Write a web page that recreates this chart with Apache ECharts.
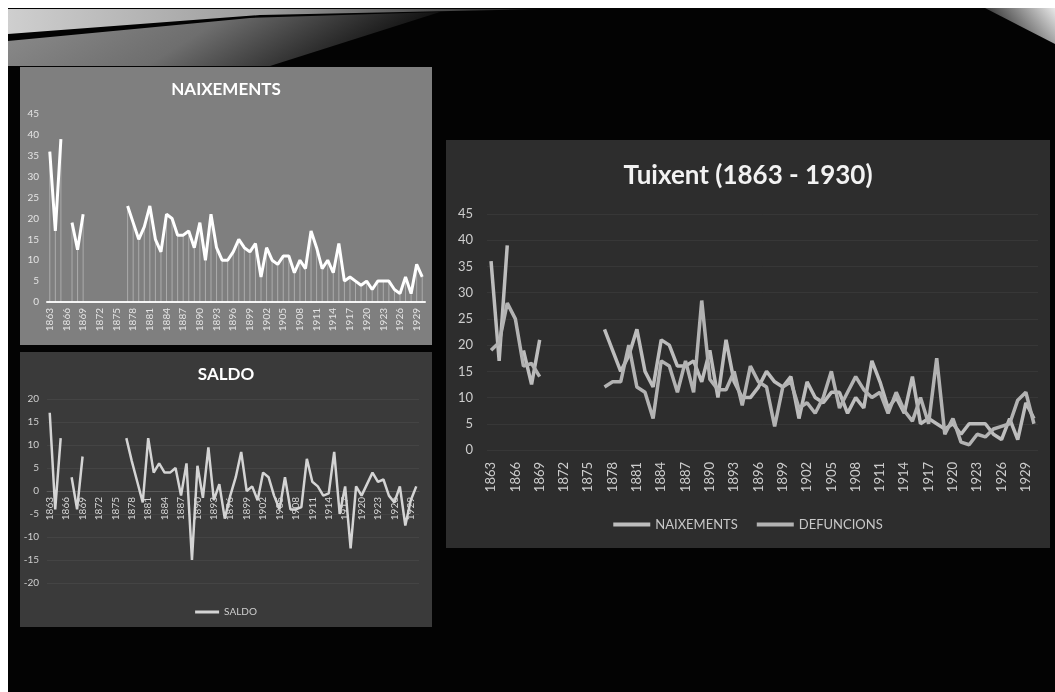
<!DOCTYPE html>
<html>
<head>
    <meta charset="utf-8">
    <title>Tuixent 1863 - 1930</title>
    <script src="https://cdn.jsdelivr.net/npm/echarts@6/dist/echarts.min.js"></script>
    <style>
        body { margin: 0; background: #fff; }
        #bg { position: absolute; left: 0; top: 0; }
        .panel { position: absolute; }
    </style>
</head>
<body>
    <!-- fons de la diapositiva -->
    <svg id="bg" width="1055" height="692">
        <defs>
            <linearGradient id="g1" x1="0" y1="0" x2="1" y2="0">
                <stop offset="0" stop-color="#cfcfcf"/>
                <stop offset="0.5" stop-color="#9a9a9a"/>
                <stop offset="1" stop-color="#1c1c1c"/>
            </linearGradient>
            <linearGradient id="g2" x1="0" y1="0" x2="1" y2="0.2">
                <stop offset="0" stop-color="#8e8e8e"/>
                <stop offset="0.5" stop-color="#6e6e6e"/>
                <stop offset="1" stop-color="#0a0a0a"/>
            </linearGradient>
            <linearGradient id="g3" x1="1" y1="0" x2="0" y2="0.4">
                <stop offset="0" stop-color="#e8e8e8"/>
                <stop offset="1" stop-color="#222"/>
            </linearGradient>
        </defs>
        <rect x="8" y="8" width="1047" height="684" fill="#030303"/>
        <polygon points="8,9 540,9 260,15 8,34" fill="url(#g1)"/>
        <polygon points="8,41 250,18 440,12 270,66 8,66" fill="url(#g2)"/>
        <polygon points="985,8 1055,8 1055,44" fill="url(#g3)"/>
    </svg>

    <div id="naix" class="panel" style="left:20px;top:67px;width:412px;height:278px;"></div>
    <div id="saldo" class="panel" style="left:20px;top:352px;width:412px;height:275px;"></div>
    <div id="tuixent" class="panel" style="left:446px;top:140px;width:604px;height:408px;"></div>

    <script type="text/javascript">
        var years = ['1863','1864','1865','1866','1867','1868','1869','1870','1871','1872',
            '1873','1874','1875','1876','1877','1878','1879','1880','1881','1882',
            '1883','1884','1885','1886','1887','1888','1889','1890','1891','1892',
            '1893','1894','1895','1896','1897','1898','1899','1900','1901','1902',
            '1903','1904','1905','1906','1907','1908','1909','1910','1911','1912',
            '1913','1914','1915','1916','1917','1918','1919','1920','1921','1922',
            '1923','1924','1925','1926','1927','1928','1929','1930'];

        // naixements per any (buits = sense dades)
        var naixements = [36, 17, 39, null, 19, 12.5, 21, null, null, null,
            null, null, null, null, 23, 19, 15, 18, 23, 15,
            12, 21, 20, 16, 16, 17, 13, 19, 10, 21,
            13, 10, 10, 12, 15, 13, 12, 14, 6, 13,
            10, 9, 11, 11, 7, 10, 8, 17, 13, 8,
            10, 7, 14, 5, 6, 5, 4, 5, 3, 5,
            5, 5, 3, 2, 6, 2, 9, 6];

        var defuncions = [19, 20.5, 28, 25, 16, 16.5, 14, null, null, null,
            null, null, null, null, 12, 13, 13, 20, 12, 11,
            6, 17, 16, 11, 17, 11, 28.5, 13.5, 11.5, 11.5,
            15, 8.5, 16, 13, 12, 4.5, 12, 13, 8, 9,
            7, 10, 15, 8, 11, 14, 11.5, 10, 11, 7,
            11, 7.5, 5.5, 10, 5, 17.5, 3, 6, 1.5, 1,
            3, 2.5, 4, 4.5, 5, 9.5, 11, 5];

        var saldo = [17, -4, 11.5, null, 3, -4, 7.5, null, null, null,
            null, null, null, null, 11.5, 6.5, 2, -2.5, 11.5, 4,
            6, 4, 4, 5, -1, 6, -15, 5.5, -1.5, 9.5,
            -2, 1.5, -6, -1, 3, 8.5, 0, 1, -2, 4,
            3, -1, -4, 3, -4, -4, -3.5, 7, 2, 1,
            -1, -0.5, 8.5, -5, 1, -12.5, 1, -1, 1.5, 4,
            2, 2.5, -1, -2.5, 1, -7.5, -2, 1];

        var font = 'Lato';

        // NAIXEMENTS
        var chartNaix = echarts.init(document.getElementById('naix'));
        chartNaix.setOption({
            backgroundColor: '#7f7f7f',
            animation: false,
            textStyle: { fontFamily: font },
            title: {
                text: 'NAIXEMENTS', left: 'center', top: 9,
                textStyle: { color: '#ffffff', fontSize: 17, fontWeight: 'bold', fontFamily: font }
            },
            grid: { left: 27, right: 7, top: 47, bottom: 43, outerBoundsMode: 'none' },
            xAxis: {
                type: 'category', data: years, boundaryGap: true,
                axisLine: { lineStyle: { color: '#f4f4f4', width: 2 } },
                axisTick: { show: false },
                axisLabel: { rotate: 90, interval: 2, color: '#e4e4e4', fontSize: 10, margin: 6, fontFamily: font }
            },
            yAxis: {
                type: 'value', min: 0, max: 45, interval: 5,
                axisLine: { show: false }, axisTick: { show: false },
                axisLabel: { color: '#e4e4e4', fontSize: 10, margin: 8, fontFamily: font },
                splitLine: { show: false }
            },
            series: [
                {   // linies verticals tenues
                    type: 'bar', data: naixements, barWidth: 1, silent: true,
                    itemStyle: { color: 'rgba(255,255,255,0.35)' }
                },
                {
                    name: 'NAIXEMENTS', type: 'line', data: naixements, symbol: 'none',
                    lineStyle: { color: '#ffffff', width: 3 }
                }
            ]
        });

        // SALDO
        var chartSaldo = echarts.init(document.getElementById('saldo'));
        chartSaldo.setOption({
            backgroundColor: '#3a3a3a',
            animation: false,
            textStyle: { fontFamily: font },
            title: {
                text: 'SALDO', left: 'center', top: 9,
                textStyle: { color: '#ffffff', fontSize: 17, fontWeight: 'bold', fontFamily: font }
            },
            legend: {
                data: ['SALDO'], left: 'center', top: 250,
                icon: 'rect', itemWidth: 24, itemHeight: 3,
                textStyle: { color: '#cfcfcf', fontSize: 10, fontFamily: font }
            },
            grid: { left: 27, right: 13, top: 47, bottom: 44, outerBoundsMode: 'none' },
            xAxis: {
                type: 'category', data: years, boundaryGap: true,
                offset: -92,
                axisLine: { onZero: false, lineStyle: { color: 'rgba(255,255,255,0.12)', width: 1 } },
                axisTick: { show: false },
                axisLabel: { rotate: 90, interval: 2, color: '#d6d6d6', fontSize: 10, margin: 6, fontFamily: font }
            },
            yAxis: {
                type: 'value', min: -20, max: 20, interval: 5,
                axisLine: { show: false }, axisTick: { show: false },
                axisLabel: { color: '#cfcfcf', fontSize: 10, margin: 8, fontFamily: font },
                splitLine: { lineStyle: { color: 'rgba(255,255,255,0.05)' } }
            },
            series: [{
                name: 'SALDO', type: 'line', data: saldo, symbol: 'none', z: 5,
                itemStyle: { color: '#d4d4d4' },
                lineStyle: { color: '#d4d4d4', width: 2.5 }
            }]
        });

        // Tuixent (1863 - 1930)
        var chartTux = echarts.init(document.getElementById('tuixent'));
        chartTux.setOption({
            backgroundColor: '#2d2d2d',
            animation: false,
            textStyle: { fontFamily: font },
            title: {
                text: 'Tuixent (1863 - 1930)', left: 'center', top: 18,
                textStyle: { color: '#f2f2f2', fontSize: 26, fontWeight: 'bold', fontFamily: font }
            },
            legend: {
                data: ['NAIXEMENTS', 'DEFUNCIONS'], left: 'center', top: 373,
                icon: 'rect', itemWidth: 37, itemHeight: 4, itemGap: 19,
                textStyle: { color: '#c8c8c8', fontSize: 13, fontFamily: font }
            },
            grid: { left: 41, right: 12, top: 74, bottom: 98, outerBoundsMode: 'none' },
            xAxis: {
                type: 'category', data: years, boundaryGap: true,
                axisLine: { show: false }, axisTick: { show: false },
                axisLabel: { rotate: 90, interval: 2, color: '#cdcdcd', fontSize: 13, margin: 12, fontFamily: font }
            },
            yAxis: {
                type: 'value', min: 0, max: 45, interval: 5,
                axisLine: { show: false }, axisTick: { show: false },
                axisLabel: { color: '#cdcdcd', fontSize: 13, margin: 14, fontFamily: font },
                splitLine: { lineStyle: { color: 'rgba(255,255,255,0.05)' } }
            },
            series: [
                {
                    name: 'NAIXEMENTS', type: 'line', data: naixements, symbol: 'none',
                    itemStyle: { color: '#bdbdbd' },
                    lineStyle: { color: '#bdbdbd', width: 3.5 }
                },
                {
                    name: 'DEFUNCIONS', type: 'line', data: defuncions, symbol: 'none',
                    itemStyle: { color: '#b3b3b3' },
                    lineStyle: { color: '#b3b3b3', width: 3.5 }
                }
            ]
        });
    </script>
</body>
</html>
